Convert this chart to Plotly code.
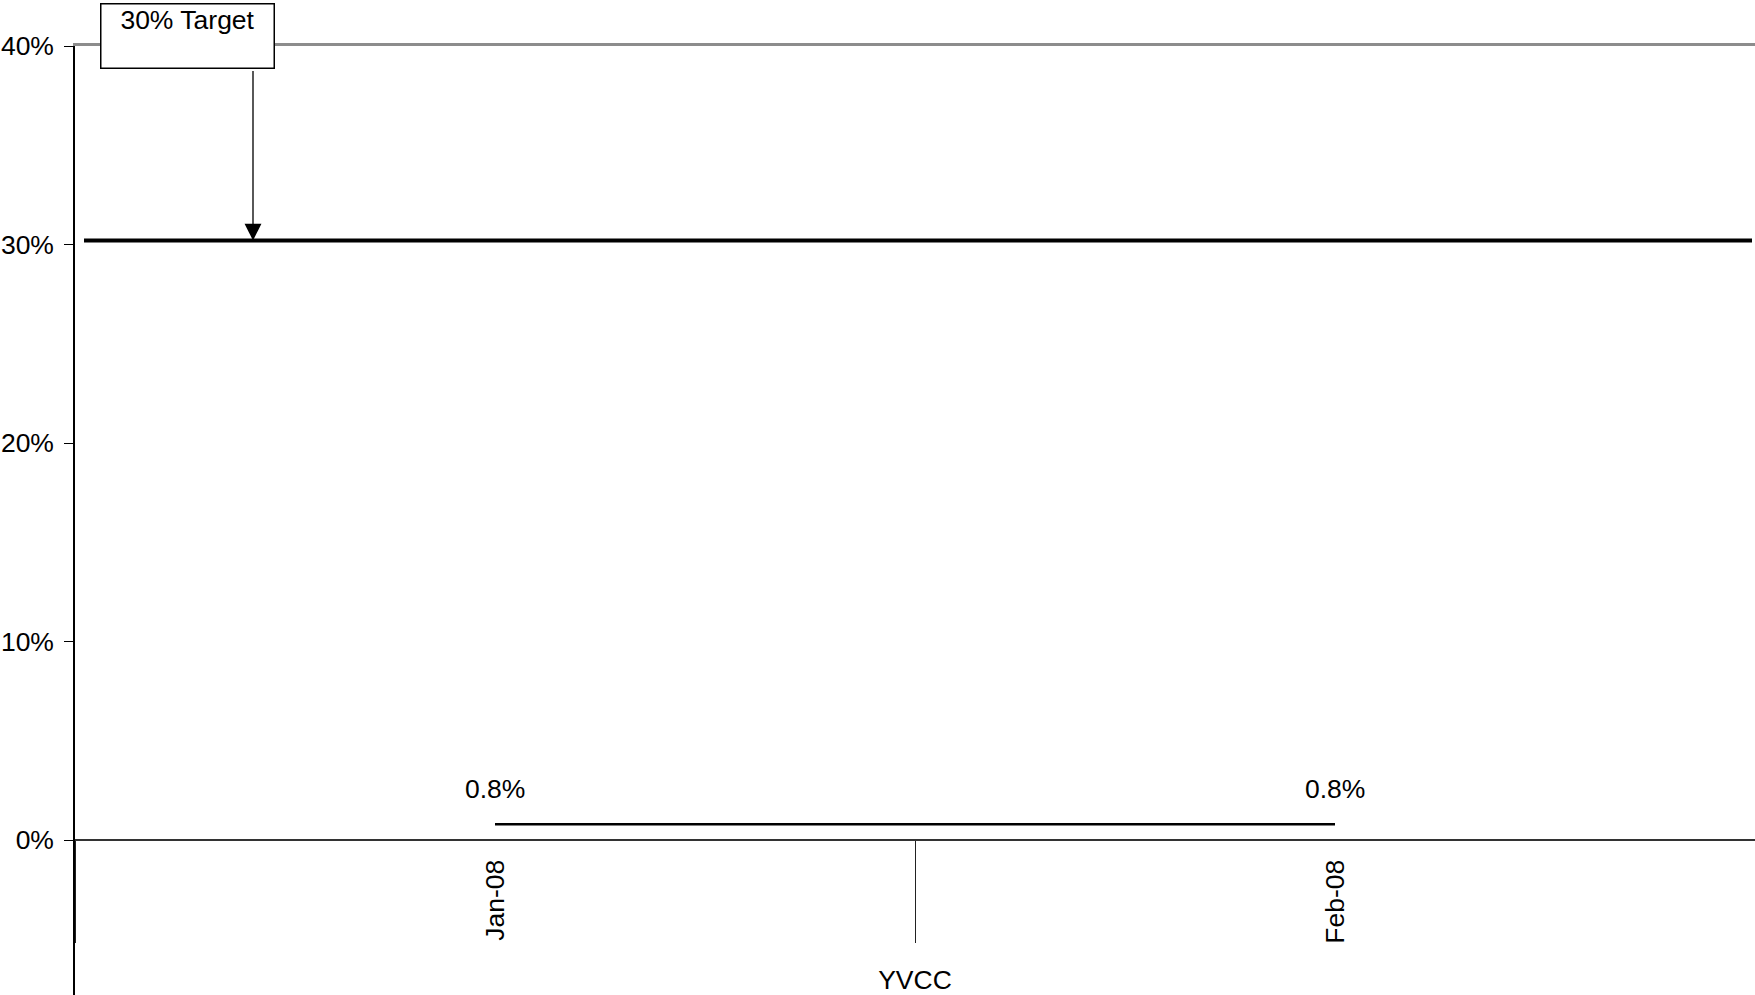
import plotly.graph_objects as go

# ---- data ----
CATEGORIES = ["Jan-08", "Feb-08"]
RATE = [0.008, 0.008]
RATE_LABELS = ["0.8%", "0.8%"]
GROUP_LABEL = "YVCC"
TARGET = 0.302
TARGET_LABEL = "30% Target"
Y_TICKS = [0, 0.1, 0.2, 0.3, 0.4]
Y_TICK_TEXT = ["0%", "10%", "20%", "30%", "40%"]

# ---- layout constants ----
W, H = 1755, 995
ML, MR, MT, MB = 75, 0, 46, 0
PW, PH = W - ML - MR, H - MT - MB
YMIN, YMAX = -0.078, 0.40
FONT = dict(family="Arial, 'Liberation Sans', sans-serif", size=26.5, color="black")

fig = go.Figure()

# actual series
fig.add_trace(go.Scatter(
    x=CATEGORIES, y=RATE, mode="lines",
    line=dict(color="black", width=2.5),
    xaxis="x", yaxis="y", showlegend=False, hoverinfo="skip",
))

# target line spanning the plot width (numeric helper axis x2)
fig.add_trace(go.Scatter(
    x=[0, 1], y=[TARGET, TARGET], mode="lines",
    line=dict(color="black", width=4),
    xaxis="x2", yaxis="y", showlegend=False, hoverinfo="skip",
))

zero_pos = (0 - YMIN) / (YMAX - YMIN)

fig.update_layout(
    width=W, height=H,
    margin=dict(l=ML, r=MR, t=MT, b=MB, pad=0, autoexpand=False),
    paper_bgcolor="white", plot_bgcolor="white",
    font=FONT,
    showlegend=False,
    xaxis=dict(
        type="category", categoryorder="array", categoryarray=CATEGORIES,
        range=[-0.5, 1.5],
        anchor="free", position=zero_pos,
        showline=True, linecolor="#333333", linewidth=2,
        ticks="outside", tickson="boundaries", ticklen=102,
        tickcolor="#222222", tickwidth=1,
        tickangle=-90, tickfont=FONT,
        ticklabelstandoff=8,
        showgrid=False, zeroline=False, automargin=False,
        title=dict(text=GROUP_LABEL, font=FONT, standoff=29),
    ),
    xaxis2=dict(
        overlaying="x", side="top", anchor="y",
        range=[-0.0054, 1.0018],
        showline=True, linecolor="#8c8c8c", linewidth=2.5,
        showticklabels=False, ticks="", showgrid=False, zeroline=False,
        automargin=False,
    ),
    yaxis=dict(
        range=[YMIN, YMAX],
        tickvals=Y_TICKS, ticktext=Y_TICK_TEXT,
        ticks="outside", ticklen=9, tickcolor="black", tickwidth=1,
        showline=True, linecolor="black", linewidth=1.5,
        showgrid=False, zeroline=False, automargin=False,
        tickfont=FONT, ticklabelstandoff=5,
    ),
)

annotations = []
# text box of the target callout
annotations.append(dict(
    xref="paper", yref="paper",
    x=(100 - ML) / PW, y=1 + (MT - 2.7) / PH,
    xanchor="left", yanchor="top",
    text=TARGET_LABEL, showarrow=False,
    width=172, height=63, align="center", valign="top",
    bordercolor="black", borderwidth=1.5, borderpad=0,
    bgcolor="white", font=FONT,
))
# arrow of the callout pointing at the target line
annotations.append(dict(
    xref="paper", yref="y",
    x=(253 - ML) / PW, y=TARGET,
    text="", showarrow=True,
    ax=0, ay=-171,
    arrowhead=2, arrowsize=2.6, arrowwidth=1.3, arrowcolor="black",
    standoff=0,
))
# data labels
for c, v, t in zip(CATEGORIES, RATE, RATE_LABELS):
    annotations.append(dict(
        xref="x", yref="y", x=c, y=v, text=t,
        showarrow=False, yshift=35, font=FONT,
    ))
fig.update_layout(annotations=annotations)

fig.write_html(
    "out.html",
    config={"displayModeBar": False},
    post_script="document.body.style.margin='0px';document.body.style.overflow='hidden';",
)
